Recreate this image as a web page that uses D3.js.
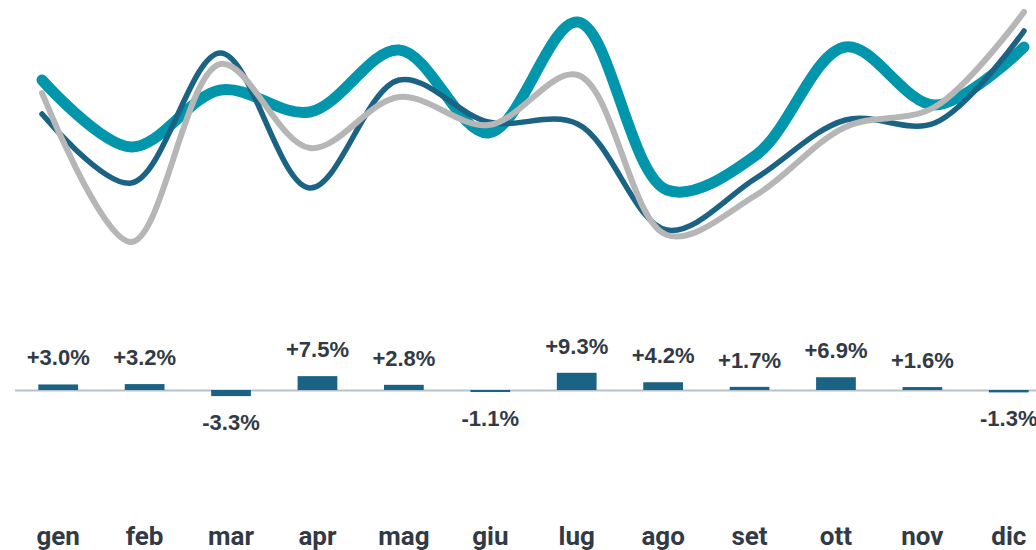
<!DOCTYPE html>
<html>
<head>
<meta charset="utf-8">
<script src="https://cdn.jsdelivr.net/npm/d3@7"></script>
<style>
  html, body { margin: 0; padding: 0; background: #fff; }
  svg { display: block; }
</style>
</head>
<body>
<svg id="chart" width="1036" height="550"></svg>
<script>
// months on the x axis
const months = ["gen", "feb", "mar", "apr", "mag", "giu", "lug", "ago", "set", "ott", "nov", "dic"];

// monthly change, %
const change = [3.0, 3.2, -3.3, 7.5, 2.8, -1.1, 9.3, 4.2, 1.7, 6.9, 1.6, -1.3];

// index lines (0-100 scale)
const tealLine = [72, 45.2, 68, 59.2, 84, 50.8, 95.2, 28, 42, 85.2, 62, 85.2];
const blueLine = [58.4, 30.8, 82.8, 28.8, 72, 55.2, 54.4, 12, 32.8, 56, 54.8, 91.6];
const greyLine = [66.8, 7.2, 78.4, 44.8, 65.2, 54, 74, 10, 26, 53.2, 61.2, 99.2];

// colours
const colTeal = "#0196ab";
const colBlue = "#1b6385";
const colGrey = "#b6b6b6";
const colText = "#323a45";
const colAxis = "#b9bfc8";

var svg = d3.select("#chart");

//
// lines
//
var xLine = d3.scalePoint().domain(months).range([42, 1024]);
var yLine = d3.scaleLinear().domain([0, 100]).range([260, 10]);

var line = d3.line()
  .x(function(d, i) { return xLine(months[i]); })
  .y(function(d) { return yLine(d); })
  .curve(d3.curveCatmullRom.alpha(0.5));

var series = [
  { values: tealLine, color: colTeal, width: 11 },
  { values: blueLine, color: colBlue, width: 5.5 },
  { values: greyLine, color: colGrey, width: 6 }
];

svg.append("g").selectAll("path")
  .data(series)
  .join("path")
  .attr("d", function(s) { return line(s.values); })
  .attr("fill", "none")
  .attr("stroke", function(s) { return s.color; })
  .attr("stroke-width", function(s) { return s.width; })
  .attr("stroke-linecap", "round")
  .attr("stroke-linejoin", "round");

//
// bars
//
var x = d3.scaleBand().domain(months).range([15, 1052]).paddingInner(0.54).paddingOuter(0.27);
var y = d3.scaleLinear().domain([-10, 10]).range([408.5, 371.5]);

svg.append("line")
  .attr("x1", 15).attr("x2", 1036)
  .attr("y1", y(0) + 0.5).attr("y2", y(0) + 0.5)
  .attr("stroke", colAxis)
  .attr("stroke-width", 2);

svg.append("g").selectAll("rect")
  .data(change)
  .join("rect")
  .attr("x", function(d, i) { return x(months[i]); })
  .attr("width", x.bandwidth())
  .attr("y", function(d) { return y(Math.max(0, d)); })
  .attr("height", function(d) { return Math.abs(y(d) - y(0)); })
  .attr("fill", colBlue);

function fmt(v) {
  return (v > 0 ? "+" : "-") + Math.abs(v).toFixed(1) + "%";
}

svg.append("g").selectAll("text")
  .data(change)
  .join("text")
  .attr("x", function(d, i) { return x(months[i]) + x.bandwidth() / 2; })
  .attr("y", function(d) { return d >= 0 ? y(d) - 19 : y(d) + 34; })
  .attr("text-anchor", "middle")
  .attr("font-family", "'Liberation Sans', Arial, sans-serif")
  .attr("font-weight", "bold")
  .attr("font-size", 22)
  .attr("fill", colText)
  .text(fmt);

// month labels
svg.append("g").selectAll("text")
  .data(months)
  .join("text")
  .attr("x", function(d) { return x(d) + x.bandwidth() / 2; })
  .attr("y", 545)
  .attr("text-anchor", "middle")
  .attr("font-family", "Roboto, sans-serif")
  .attr("font-weight", "bold")
  .attr("font-size", 26)
  .attr("fill", colText)
  .text(function(d) { return d; });
</script>
</body>
</html>
